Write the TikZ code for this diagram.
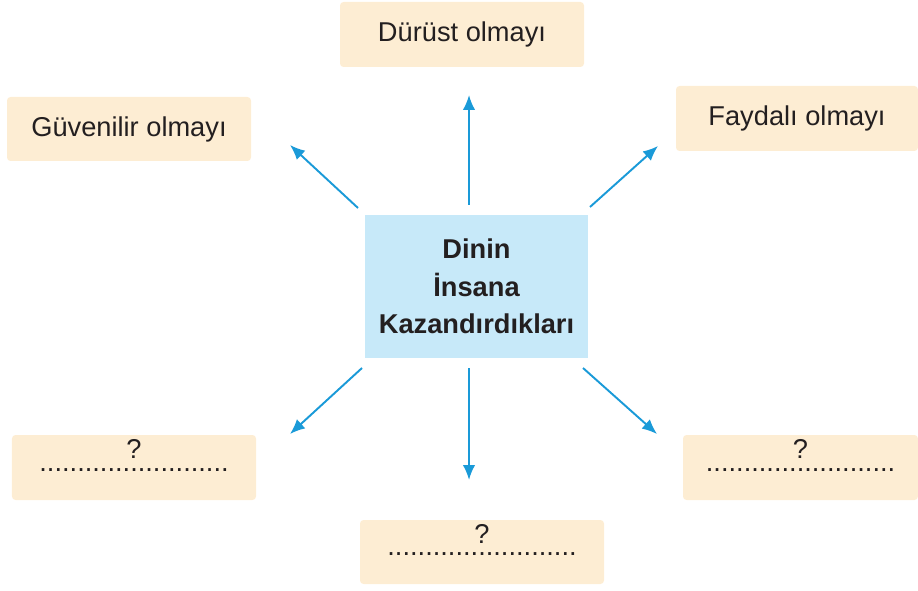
\documentclass[tikz,border=0pt]{standalone}
\usepackage{fontspec}
\setmainfont{Liberation Sans}
\usetikzlibrary{arrows.meta}

\definecolor{kutu}{HTML}{FDEDD3}
\definecolor{merkezmavi}{HTML}{C7E9F9}
\definecolor{okmavi}{HTML}{1A9AD8}
\definecolor{yazi}{HTML}{231F20}

\tikzset{
  kutu/.style={fill=kutu, rounded corners=2pt, minimum width=4.88cm, minimum height=1.3cm,
    inner sep=0pt, text=yazi, font=\fontsize{15.5}{18}\selectfont},
  soru/.style={kutu, align=center, text depth=13.8pt},
  ok/.style={okmavi, line width=1.1pt, -{Latex[length=3mm,width=2.5mm]}}
}

\newcommand{\noktalar}{.........................}

\begin{document}
\begin{tikzpicture}
    \useasboundingbox (0,0) rectangle (18.36,11.8);

    % Center box
    \node[fill=merkezmavi, minimum width=4.46cm, minimum height=2.86cm, align=center,
          text=yazi, font=\fontsize{15.5}{21.3}\selectfont\bfseries] (merkez) at (9.53,6.07)
          {Dinin\\İnsana\\Kazandırdıkları};

    % Boxes with answers
    \node[kutu] (durust) at (9.24,11.11) {Dürüst olmayı};
    \node[kutu, minimum height=1.28cm] (guvenilir) at (2.58,9.22) {Güvenilir olmayı};
    \node[kutu, minimum width=4.84cm] (faydali) at (15.94,9.43) {Faydalı olmayı};

    % Boxes with question marks
    \node[soru] (soru1) at (2.68,2.45) {?\\[-11pt]\noktalar};
    \node[soru, minimum height=1.28cm] (soru2) at (9.64,0.76) {?\\[-11pt]\noktalar};
    \node[soru, minimum width=4.70cm] (soru3) at (16.01,2.45) {?\\[-11pt]\noktalar};

    % Arrow ends
    \coordinate (a1) at (9.38,7.70);  \coordinate (b1) at (9.38,9.90);
    \coordinate (a2) at (7.16,7.64);  \coordinate (b2) at (5.80,8.90);
    \coordinate (a3) at (11.80,7.66); \coordinate (b3) at (13.16,8.88);
    \coordinate (a4) at (7.24,4.44);  \coordinate (b4) at (5.80,3.12);
    \coordinate (a5) at (9.38,4.44);  \coordinate (b5) at (9.38,2.20);
    \coordinate (a6) at (11.66,4.44); \coordinate (b6) at (13.14,3.12);

    % Arrows
    \draw[ok] (a1) -- (b1);
    \draw[ok] (a2) -- (b2);
    \draw[ok] (a3) -- (b3);
    \draw[ok] (a4) -- (b4);
    \draw[ok] (a5) -- (b5);
    \draw[ok] (a6) -- (b6);
\end{tikzpicture}
\end{document}
